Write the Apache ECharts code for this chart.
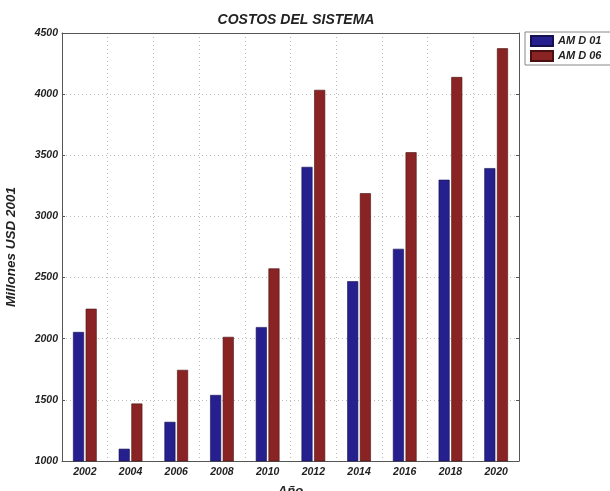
<!DOCTYPE html>
<html><head><meta charset="utf-8">
<script src="https://cdn.jsdelivr.net/npm/echarts@6/dist/echarts.min.js"></script>
<style>html,body{margin:0;padding:0;background:#fff}#c{width:610px;height:491px}</style>
</head><body><div id="c"></div>
<script>
const years = ['2002','2004','2006','2008','2010','2012','2014','2016','2018','2020'];
const amd01 = [2055, 1100, 1320, 1540, 2095, 3405, 2470, 2735, 3300, 3395];
const amd06 = [2245, 1470, 1745, 2015, 2575, 4035, 3190, 3525, 4140, 4375];
const yTicks = {min: 1000, max: 4500, interval: 500};
const FONT = 'Liberation Sans';
const chart = echarts.init(document.getElementById('c'));
const tickLbl = {fontFamily: FONT, fontStyle: 'italic', fontWeight: 'bold', fontSize: 10.5, color: '#222'};
chart.setOption({
  animation: false,
  title: {text: 'COSTOS DEL SISTEMA', left: 291, top: 8, textAlign: 'center',
    textStyle: {fontFamily: FONT, fontStyle: 'italic', fontWeight: 'bold', fontSize: 14, color: '#222'}},
  legend: {left: 525, top: 32, orient: 'vertical', icon: 'rect', itemWidth: 22, itemHeight: 10, itemGap: 3,
    backgroundColor: '#fff', borderColor: '#888', borderWidth: 1, padding: [3, 20, 3, 5],
    textStyle: {fontFamily: FONT, fontStyle: 'italic', fontWeight: 'bold', fontSize: 11, color: '#222'},
    data: ['AM D 01', 'AM D 06']},
  grid: {left: 62, right: 91, top: 33, bottom: 30, outerBoundsMode: 'none', containLabel: false},
  xAxis: [{type: 'category', data: years, name: 'Año', nameLocation: 'middle', nameGap: 24,
    nameTextStyle: {fontFamily: FONT, fontStyle: 'italic', fontWeight: 'bold', fontSize: 13, color: '#222'},
    axisLine: {lineStyle: {color: '#555'}},
    axisTick: {alignWithLabel: true, inside: true, length: 3, lineStyle: {color: '#555'}},
    axisLabel: Object.assign({margin: 6}, tickLbl),
    splitLine: {show: true, lineStyle: {color: '#bbb', type: [1, 3]}}},
   {type: 'category', data: years, position: 'top',
    axisLine: {lineStyle: {color: '#555'}},
    axisTick: {alignWithLabel: true, inside: true, length: 3, lineStyle: {color: '#555'}},
    axisLabel: {show: false}}],
  yAxis: [{type: 'value', min: yTicks.min, max: yTicks.max, interval: yTicks.interval,
    name: 'Millones USD 2001', nameLocation: 'middle', nameGap: 44,
    nameTextStyle: {fontFamily: FONT, fontStyle: 'italic', fontWeight: 'bold', fontSize: 13.5, color: '#222'},
    axisLine: {show: true, lineStyle: {color: '#555'}},
    axisTick: {show: true, inside: true, length: 3, lineStyle: {color: '#555'}},
    axisLabel: Object.assign({margin: 4, formatter: v => String(v)}, tickLbl),
    splitLine: {show: true, lineStyle: {color: '#bbb', type: [1, 3]}}},
   {type: 'value', min: yTicks.min, max: yTicks.max, interval: yTicks.interval, position: 'right',
    axisLine: {show: true, lineStyle: {color: '#555'}},
    axisTick: {show: true, inside: true, length: 3, lineStyle: {color: '#555'}},
    axisLabel: {show: false}, splitLine: {show: false}}],
  series: [
    {name: 'AM D 01', type: 'bar', data: amd01, barWidth: 11, barGap: '15%',
     itemStyle: {color: '#25208e', borderColor: '#151050', borderWidth: 0.6}},
    {name: 'AM D 06', type: 'bar', data: amd06, barWidth: 11,
     itemStyle: {color: '#8a2424', borderColor: '#4a1010', borderWidth: 0.6}}
  ]
});
</script></body></html>
